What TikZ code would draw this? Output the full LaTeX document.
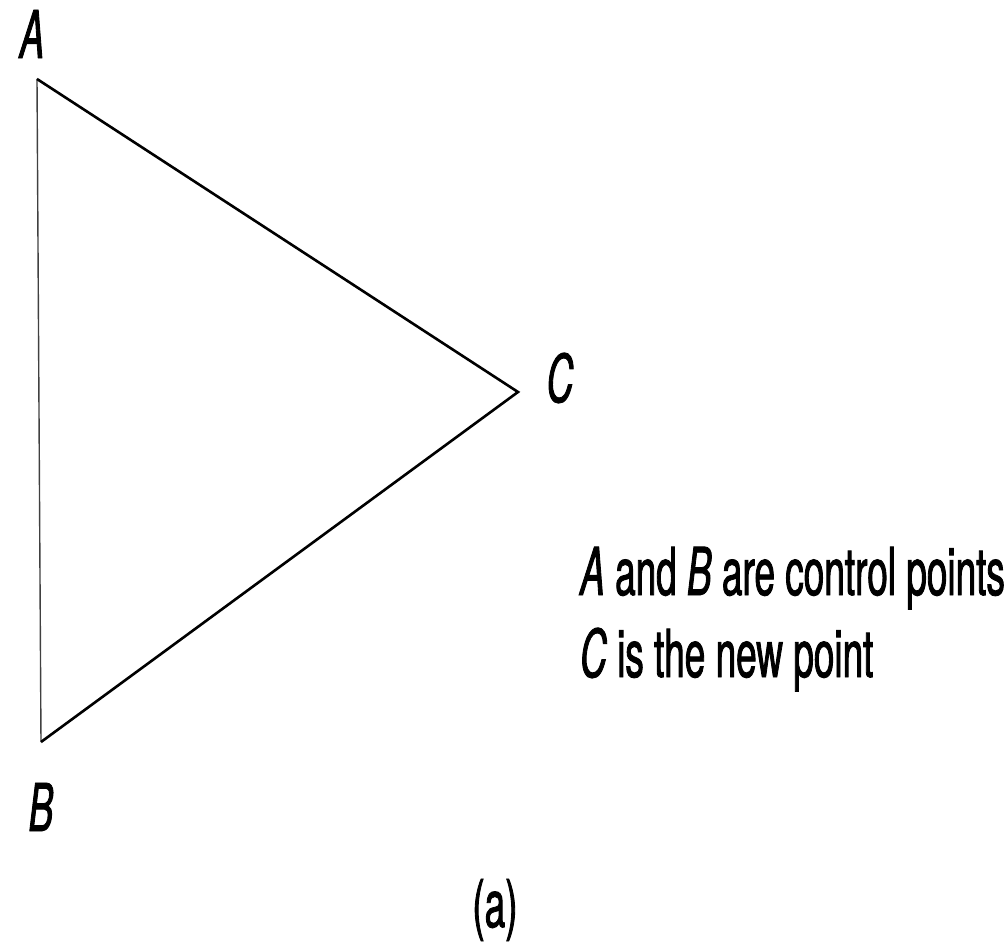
\documentclass[tikz,border=0pt]{standalone}
\usepackage{fontspec}
\setmainfont{TeX Gyre Heros}[FakeStretch=0.56, FakeBold=1.3]
\usepackage{tikz}

\begin{document}
\begin{tikzpicture}[
    x=1pt, y=-1pt,
    every node/.style={inner sep=0pt, font=\fontsize{66}{80}\selectfont},
    vlabel/.style={font=\fontsize{66}{80}\selectfont\itshape},
    side/.style={line width=2.6pt, line join=miter},
    thinside/.style={line width=1.4pt, black!75}
]
\useasboundingbox (0,0) rectangle (1008,949);

% Points
\coordinate (A) at (37,79);
\coordinate (B) at (41,742);
\coordinate (C) at (518,392);

% Labels
\node[vlabel] (labA) at (32,34) {A};
\node[vlabel] (labB) at (41,807) {B};
\node[vlabel] (labC) at (560,378) {C};
\node[anchor=base west] (note1) at (580,595) {\textit{A} and \textit{B} are control points};
\node[anchor=base west] (note2) at (580,677) {\textit{C} is the new point};
\node (caption) at (495,910) {(a)};

% Sides
\draw[thinside] (A) -- (B);
\draw[side] (A) -- (C) -- (B);

\end{tikzpicture}
\end{document}
